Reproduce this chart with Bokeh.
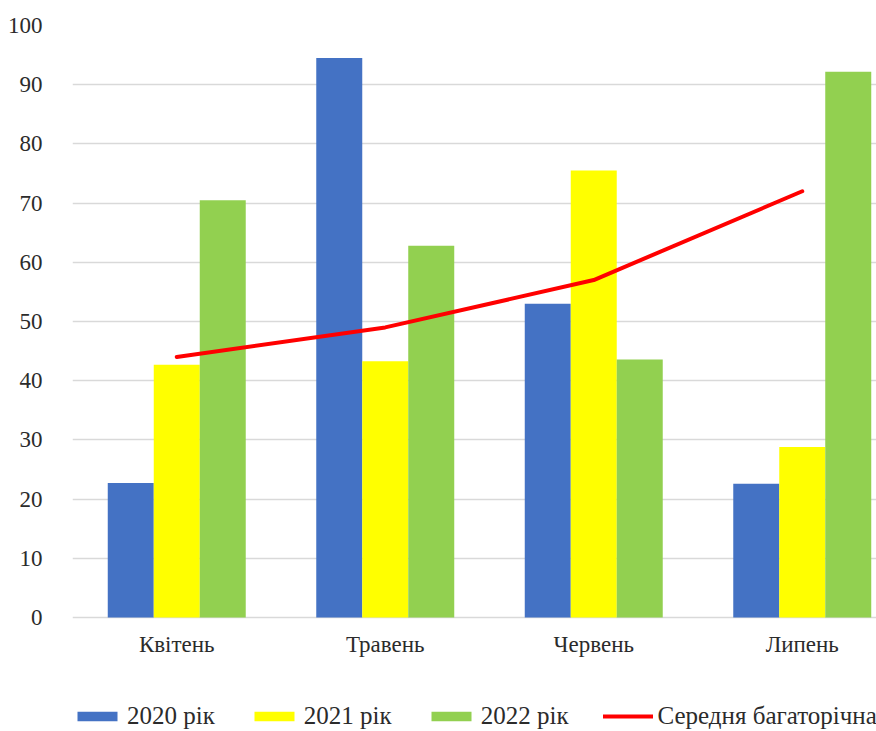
from bokeh.plotting import figure
from bokeh.models import ColumnDataSource, FixedTicker, Legend, LegendItem
from bokeh.embed import file_html
from bokeh.resources import INLINE

months = ["Квітень", "Травень", "Червень", "Липень"]
series_names = ["2020 рік", "2021 рік", "2022 рік"]
v2020 = [22.7, 94.5, 53.0, 22.6]
v2021 = [42.7, 43.3, 75.5, 28.8]
v2022 = [70.5, 62.8, 43.6, 92.2]
avg_name = "Середня багаторічна"
avg = [44.0, 49.0, 57.0, 72.0]
y_ticks = list(range(0, 101, 10))

colors = ["#4472C4", "#FFFF00", "#92D050"]
FONT = "Liberation Serif"
TXT = "#2b2b2b"

xs = list(range(len(months)))
bw = 0.2206
offsets = [-bw, 0.0, bw]

# frame: 804 x 706 px; 0 lies 592 px below the top (100)
y_bottom = -(706 - 592) / 5.92
p = figure(frame_width=804, frame_height=706, output_backend="svg", toolbar_location=None,
           x_range=(-0.5, -0.5 + 804 / 208.5), y_range=(y_bottom, 100))
p.min_border_left = 72
p.min_border_right = 0
p.min_border_top = 25
p.min_border_bottom = 0
p.outline_line_color = None
p.background_fill_color = "white"
p.border_fill_color = "white"

renderers = []
for vals, off, col in zip([v2020, v2021, v2022], offsets, colors):
    src = ColumnDataSource(dict(x=[x + off for x in xs], top=vals))
    r = p.vbar(x="x", top="top", bottom=0, width=bw, source=src, fill_color=col, line_color=None)
    renderers.append(r)

lsrc = ColumnDataSource(dict(x=xs, y=avg))
lr = p.line(x="x", y="y", source=lsrc, line_color="#FF0000", line_width=4,
            line_join="round", line_cap="round")

# axes
p.yaxis.ticker = FixedTicker(ticks=y_ticks)
p.yaxis.axis_line_color = None
p.yaxis.major_tick_line_color = None
p.yaxis.minor_tick_line_color = None
p.yaxis.major_label_standoff = 24
p.yaxis.major_label_text_font = FONT
p.yaxis.major_label_text_font_size = "23px"
p.yaxis.major_label_text_color = TXT

p.xaxis.fixed_location = 0
p.xaxis.ticker = FixedTicker(ticks=xs)
p.xaxis.major_label_overrides = {i: m for i, m in enumerate(months)}
p.xaxis.axis_line_color = None
p.xaxis.major_tick_line_color = None
p.xaxis.minor_tick_line_color = None
p.xaxis.major_label_standoff = 8
p.xaxis.major_label_text_font = FONT
p.xaxis.major_label_text_font_size = "23px"
p.xaxis.major_label_text_color = TXT

p.xgrid.grid_line_color = None
p.ygrid.grid_line_color = "#D9D9D9"
p.ygrid.grid_line_width = 1.5
p.ygrid.ticker = FixedTicker(ticks=y_ticks)

items = [LegendItem(label=n, renderers=[r]) for n, r in zip(series_names, renderers)]
items.append(LegendItem(label=avg_name, renderers=[lr]))
legend = Legend(items=items, orientation="horizontal", location=(0, 1),
                glyph_width=50, glyph_height=12, label_standoff=5, spacing=34,
                padding=0, margin=0, border_line_color=None, background_fill_alpha=0,
                label_text_font=FONT, label_text_font_size="25px",
                label_text_color=TXT)
p.add_layout(legend, "center")

open("out.html", "w").write(file_html(p, INLINE))
